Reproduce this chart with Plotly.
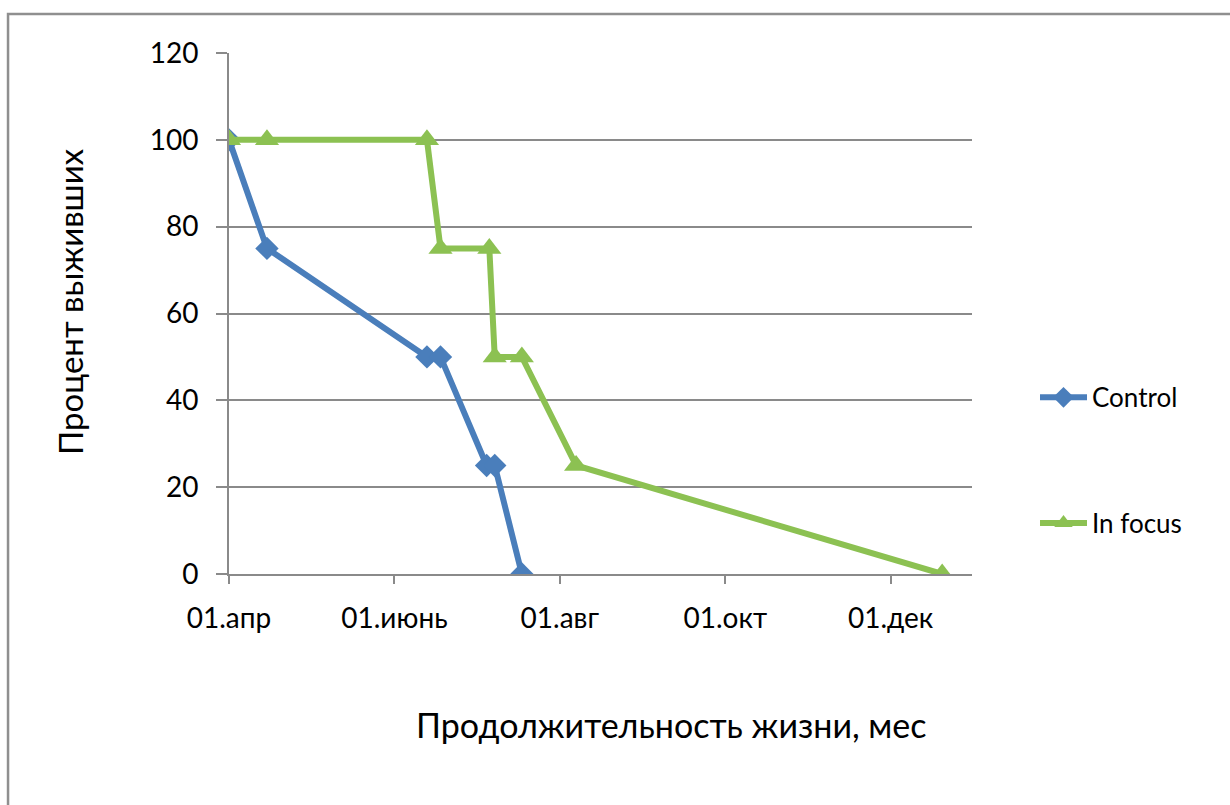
import plotly.graph_objects as go

# Observation dates and survival percentages
control_dates = ["2013-04-01", "2013-04-15", "2013-06-13", "2013-06-18",
                 "2013-07-05", "2013-07-08", "2013-07-18"]
control_pct = [100, 75, 50, 50, 25, 25, 0]

focus_dates = ["2013-04-01", "2013-04-15", "2013-06-13", "2013-06-18",
               "2013-07-06", "2013-07-08", "2013-07-18", "2013-08-07", "2013-12-20"]
focus_pct = [100, 100, 100, 75, 75, 50, 50, 25, 0]

tick_dates = ["2013-04-01", "2013-06-01", "2013-08-01", "2013-10-01", "2013-12-01"]
tick_labels = ["01.апр", "01.июнь", "01.авг", "01.окт", "01.дек"]

FONT = "Lato, 'Open Sans', 'DejaVu Sans', sans-serif"
GRID = "#8a8a8a"
BLUE = "#4a7ebb"
GREEN = "#8cc152"

fig = go.Figure()
fig.add_trace(go.Scatter(
    x=control_dates, y=control_pct, name="Control", mode="lines+markers",
    line=dict(color=BLUE, width=6),
    marker=dict(symbol="diamond", size=18, color=BLUE),
    legendgroup="a",
))
fig.add_trace(go.Scatter(
    x=focus_dates, y=focus_pct, name="In focus", mode="lines+markers",
    line=dict(color=GREEN, width=6),
    marker=dict(symbol="triangle-up", size=21, color=GREEN),
    legendgroup="b",
))

# Outer frame of the chart area
fig.add_shape(type="rect", xref="paper", yref="paper",
              x0=-0.2974, x1=1.36, y0=-0.46, y1=1.0749,
              line=dict(color="#8f8f8f", width=2.5), fillcolor="rgba(0,0,0,0)",
              layer="below")

# Axis titles
fig.add_annotation(text="Продолжительность жизни, мес", xref="paper", yref="paper",
                   x=0.595, y=-0.288, xanchor="center", yanchor="middle",
                   showarrow=False, font=dict(size=34, family=FONT, color="black"))
fig.add_annotation(text="Процент выживших", xref="paper", yref="paper",
                   x=-0.214, y=0.524, xanchor="center", yanchor="middle",
                   textangle=-90, showarrow=False,
                   font=dict(size=33, family=FONT, color="black"))

fig.update_layout(
    width=1230, height=805,
    margin=dict(l=229, r=258, t=53, b=231),
    paper_bgcolor="white", plot_bgcolor="white",
    font=dict(family=FONT, color="black", size=26),
    showlegend=True,
    legend=dict(x=1.0848, y=0.218, xanchor="left", yanchor="middle",
                font=dict(size=26), tracegroupgap=89, itemwidth=47,
                bgcolor="rgba(0,0,0,0)"),
)

fig.update_xaxes(
    type="date", range=["2013-04-01", "2013-12-31"],
    tickvals=tick_dates, ticktext=tick_labels,
    showgrid=False, zeroline=False,
    showline=True, linecolor=GRID, linewidth=2,
    ticks="outside", ticklen=8, tickwidth=2, tickcolor=GRID,
    ticklabelstandoff=10,
    tickfont=dict(size=28, family=FONT),
    automargin=False,
)
fig.update_yaxes(
    range=[0, 120], tickvals=[0, 20, 40, 60, 80, 100, 120],
    showgrid=True, gridcolor=GRID, gridwidth=2, zeroline=False,
    showline=True, linecolor=GRID, linewidth=2,
    ticks="outside", ticklen=11, tickwidth=2, tickcolor=GRID,
    ticklabelstandoff=12,
    tickfont=dict(size=28, family=FONT),
    automargin=False,
)

fig.write_html("out.html")
